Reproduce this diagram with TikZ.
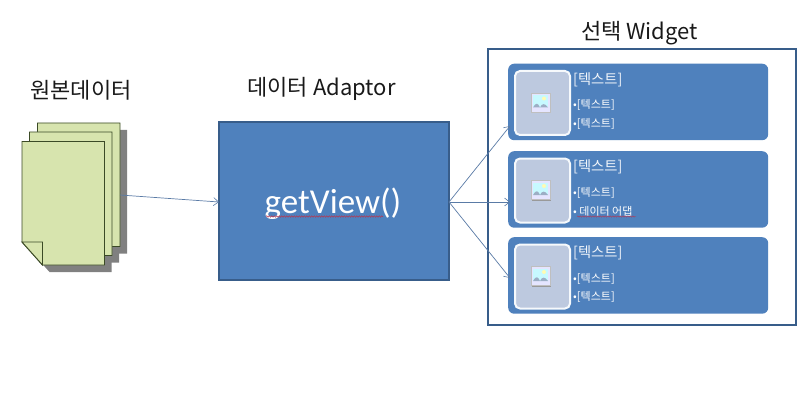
\documentclass[tikz,border=0pt]{standalone}
\usepackage{fontspec}
\setmainfont{Noto Sans CJK KR}
\newfontfamily\latinf{Carlito}
\usetikzlibrary{arrows.meta,decorations.pathmorphing}
\definecolor{blueA}{HTML}{4F81BD}
\definecolor{blueB}{HTML}{385D8A}
\definecolor{paper}{HTML}{D7E4AE}
\definecolor{paperline}{HTML}{3B4A26}
\definecolor{thumb}{HTML}{BDC9DF}
\definecolor{linkc}{HTML}{5A7BA6}
\tikzset{
 x=1pt,y=-1pt,
 pagesheet/.style={fill=paper,draw=paperline,line width=.9pt},
 pageshadow/.style={fill=black!50,draw=none},
 link/.style={draw=linkc,line width=.7pt,-{Straight Barb[length=5pt,width=8pt,line width=.6pt]}},
 heading/.style={font=\fontsize{22}{24}\selectfont,text=black!90,inner sep=0pt,anchor=center},
 card/.style={fill=blueA,draw=none,rounded corners=6pt},
 thumbbox/.style={fill=thumb,draw=white!95!blueA,line width=2pt,rounded corners=5pt},
 titletext/.style={font=\fontsize{14.3}{16}\selectfont,text=white!92!blueA,inner sep=0pt,anchor=west},
 itemtext/.style={font=\fontsize{11}{12}\selectfont,text=white,inner sep=0pt,anchor=west},
 squiggle/.style={draw=red!60!blueA,line width=.5pt,decorate,decoration={snake,amplitude=.7pt,segment length=2.5pt}},
}
\newcommand{\imgicon}[2]{%
 \fill[black!40] (#1+1,#2+1) rectangle (#1+20,#2+20);
 \fill[white!90!blue,draw=black!25,line width=.3pt] (#1,#2) rectangle (#1+19,#2+19);
 \fill[blue!10!cyan!22!white] (#1+2,#2+2) rectangle (#1+17,#2+14.5);
 \fill[white!70!yellow] (#1+13,#2+5.5) circle (2pt);
 \fill[blueB!50!white] (#1+2,#2+14.5) .. controls (#1+5,#2+9) and (#1+7,#2+10) .. (#1+9,#2+14.5) .. controls (#1+11,#2+10) and (#1+14,#2+10) .. (#1+17,#2+14.5) -- cycle;
}
\newcommand{\sheetpath}[2]{(#1,#2) -- (#1+82.5,#2) -- (#1+82.5,#2+123.5) -- (#1+20.5,#2+123.5) -- (#1,#2+100.5) -- cycle}
\begin{document}
\begin{tikzpicture}
\useasboundingbox (0,0) rectangle (803,401);
% headings
\node[heading] (h1) at (81,90) {원본데이터};
\node[heading] (h2) at (321.5,89) {데이터 {Adaptor}};
\node[heading] (h3) at (639.5,33) {선택 {Widget}};
% document stack
\fill[pageshadow] \sheetpath{44.5}{130};
\fill[pageshadow] \sheetpath{36.5}{139};
\fill[pageshadow] \sheetpath{29}{148.5};
\draw[pagesheet] \sheetpath{37.5}{123};
\draw[pagesheet] \sheetpath{29.5}{132};
\draw[pagesheet] \sheetpath{22}{141.5};
\draw[pagesheet] (22,242) -- (42.5,242) -- (42.5,265) -- cycle;
\coordinate (docs) at (120,195);
% adaptor
\node[fill=blueA,draw=blueB,line width=1.1pt,minimum width=230pt,minimum height=158pt,inner sep=0pt] (adaptor) at (334,201) {};
\node[font=\latinf\fontsize{35}{37}\selectfont,text=white,inner sep=0pt] (gv) at (333,204) {getView()};
\draw[squiggle] (266,216.5) -- (383,216.5);
% widget frame
\node[draw=blueB,line width=1.4pt,fill=white,minimum width=308pt,minimum height=276pt,inner sep=0pt] (frame) at (642,187) {};
% cards
\foreach \n/\t in {a/63.5,b/151,c/237}{
 \node[card,minimum width=260pt,minimum height=76.5pt,inner sep=0pt,anchor=north west] (card\n) at (508,\t) {};
 \node[thumbbox,minimum width=55pt,minimum height=64pt,inner sep=0pt,anchor=north west] (thumb\n) at (514,\t+6.5) {};
 \imgicon{531}{\t+29.5}
 \node[titletext] (title\n) at (573,\t+16) {[텍스트]};
 \node[itemtext] (first\n) at (573,\t+41.5) {•[텍스트]};
}
\node[itemtext] (seca) at (573,124) {•[텍스트]};
\node[itemtext] (secc) at (573,297) {•[텍스트]};
\node[itemtext] (secb) at (573,211) {• 데이터 어댑};
\draw[squiggle,line width=.4pt] (577,216.5) -- (636,216.5);
% connectors
\coordinate (adout) at (449,202);
\coordinate (ta) at (510,126);
\coordinate (tb) at (510,202);
\coordinate (tc) at (510,278);
\draw[link] (docs) -- (219,202);
\draw[link] (adout) -- (ta);
\draw[link] (adout) -- (tb);
\draw[link] (adout) -- (tc);
\end{tikzpicture}
\end{document}
